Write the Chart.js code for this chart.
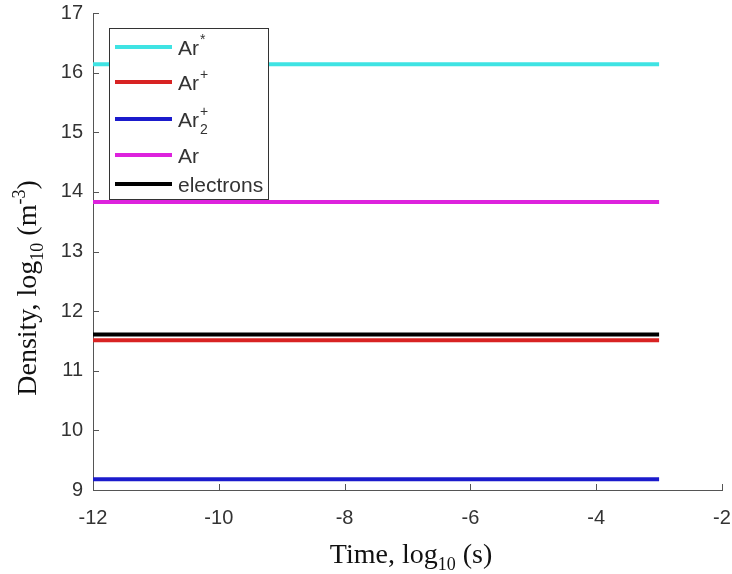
<!DOCTYPE html>
<html>
<head>
<meta charset="utf-8">
<script src="https://cdn.jsdelivr.net/npm/chart.js@4/dist/chart.umd.min.js"></script>
<style>
  html, body { margin: 0; padding: 0; background: #fff; }
  #wrap { width: 732px; height: 574px; }
</style>
</head>
<body>
<div id="wrap"><canvas id="densityChart" width="732" height="574"></canvas></div>
<script>
// data
var timeLog = [-12, -3];
var arStar = [16.14, 16.14];
var arPlus = [11.51, 11.51];
var ar2Plus = [9.18, 9.18];
var arNeutral = [13.83, 13.83];
var electrons = [11.61, 11.61];
var xTicks = [-12, -10, -8, -6, -4, -2];
var yTicks = [9, 10, 11, 12, 13, 14, 15, 16, 17];

// legend entries: base text, superscript, subscript
var legendItems = [
  { label: 'Ar', sup: '*', sub: '', color: '#3fe3e3' },
  { label: 'Ar', sup: '+', sub: '', color: '#d82323' },
  { label: 'Ar', sup: '+', sub: '2', color: '#1b1bcc' },
  { label: 'Ar', sup: '', sub: '', color: '#dd22dd' },
  { label: 'electrons', sup: '', sub: '', color: '#000000' }
];

function makeSet(label, values, color) {
  return {
    label: label,
    data: timeLog.map(function(t, i) { return { x: t, y: values[i] }; }),
    borderColor: color,
    borderWidth: 4,
    pointRadius: 0,
    fill: false
  };
}

// inward tick marks, MATLAB style
var innerTicks = {
  id: 'innerTicks',
  afterDraw: function(chart) {
    var ctx = chart.ctx;
    var xs = chart.scales.x, ys = chart.scales.y;
    var a = chart.chartArea;
    ctx.save();
    ctx.strokeStyle = '#555';
    ctx.lineWidth = 1;
    xTicks.forEach(function(v) {
      var px = Math.round(xs.getPixelForValue(v)) + 0.5;
      ctx.beginPath();
      ctx.moveTo(px, a.bottom);
      ctx.lineTo(px, a.bottom - 6);
      ctx.stroke();
    });
    yTicks.forEach(function(v) {
      var py = Math.round(ys.getPixelForValue(v)) + 0.5;
      ctx.beginPath();
      ctx.moveTo(a.left, py);
      ctx.lineTo(a.left + 6, py);
      ctx.stroke();
    });
    ctx.restore();
  }
};

// axis titles with sub/superscripts
var axisTitles = {
  id: 'axisTitles',
  afterDraw: function(chart) {
    var ctx = chart.ctx;
    ctx.save();
    ctx.fillStyle = '#111';
    ctx.textBaseline = 'alphabetic';
    var big = '28px "Liberation Serif", "DejaVu Serif", serif';
    var small = '18px "Liberation Serif", "DejaVu Serif", serif';

    // x title
    var parts = [['Time, log', big, 0], ['10', small, 7], [' (s)', big, 0]];
    var total = 0;
    parts.forEach(function(p) { ctx.font = p[1]; total += ctx.measureText(p[0]).width; });
    var x = 411 - total / 2, y = 563;
    parts.forEach(function(p) {
      ctx.font = p[1];
      ctx.fillText(p[0], x, y + p[2]);
      x += ctx.measureText(p[0]).width;
    });

    // y title, rotated
    ctx.translate(36, 288);
    ctx.rotate(-Math.PI / 2);
    parts = [['Density, log', big, 0], ['10', small, 7], [' (m', big, 0], ['-3', small, -11], [')', big, 0]];
    total = 0;
    parts.forEach(function(p) { ctx.font = p[1]; total += ctx.measureText(p[0]).width; });
    x = -total / 2;
    parts.forEach(function(p) {
      ctx.font = p[1];
      ctx.fillText(p[0], x, p[2]);
      x += ctx.measureText(p[0]).width;
    });
    ctx.restore();
  }
};

// boxed legend inside the plot
var boxLegend = {
  id: 'boxLegend',
  afterDraw: function(chart) {
    var ctx = chart.ctx;
    var left = 109, top = 28, w = 159, h = 171;
    var rows = [47, 82, 119, 155, 184];
    ctx.save();
    ctx.fillStyle = '#fff';
    ctx.fillRect(left, top, w, h);
    ctx.strokeStyle = '#333';
    ctx.lineWidth = 1;
    ctx.strokeRect(left + 0.5, top + 0.5, w, h);
    ctx.textBaseline = 'alphabetic';
    legendItems.forEach(function(item, i) {
      var y = rows[i];
      ctx.strokeStyle = item.color;
      ctx.lineWidth = 4;
      ctx.beginPath();
      ctx.moveTo(115, y);
      ctx.lineTo(172, y);
      ctx.stroke();
      ctx.fillStyle = '#333';
      ctx.font = '21px "Liberation Sans", Arial, sans-serif';
      var tx = 178;
      ctx.fillText(item.label, tx, y + 8);
      tx += ctx.measureText(item.label).width + 1;
      ctx.font = '14px "Liberation Sans", Arial, sans-serif';
      if (item.sup) ctx.fillText(item.sup, tx, y - 3);
      if (item.sub) ctx.fillText(item.sub, tx, y + 15);
    });
    ctx.restore();
  }
};

var ctx = document.getElementById('densityChart').getContext('2d');
var densityChart = new Chart(ctx, {
  type: 'line',
  data: {
    datasets: [
      makeSet('Ar*', arStar, legendItems[0].color),
      makeSet('Ar+', arPlus, legendItems[1].color),
      makeSet('Ar2+', ar2Plus, legendItems[2].color),
      makeSet('Ar', arNeutral, legendItems[3].color),
      makeSet('electrons', electrons, legendItems[4].color)
    ]
  },
  options: {
    responsive: false,
    animation: false,
    layout: { padding: { top: 13, right: 10, left: 0, bottom: 0 } },
    plugins: {
      legend: { display: false },
      tooltip: { enabled: false }
    },
    scales: {
      x: {
        type: 'linear',
        min: -12,
        max: -2,
        afterBuildTicks: function(s) { s.ticks = xTicks.map(function(v) { return { value: v }; }); },
        afterFit: function(s) { s.height = 84; s.paddingLeft = 0; s.paddingRight = 0; },
        grid: { display: false, tickLength: 0 },
        border: { display: true, color: '#555', width: 1 },
        ticks: {
          color: '#333',
          padding: 16,
          maxRotation: 0,
          autoSkip: false,
          font: { family: '"Liberation Sans", Arial, sans-serif', size: 20 }
        }
      },
      y: {
        min: 9,
        max: 17,
        afterBuildTicks: function(s) { s.ticks = yTicks.map(function(v) { return { value: v }; }); },
        afterFit: function(s) { s.width = 93; s.paddingTop = 0; s.paddingBottom = 0; },
        grid: { display: false, tickLength: 0 },
        border: { display: true, color: '#555', width: 1 },
        ticks: {
          color: '#333',
          padding: 10,
          autoSkip: false,
          font: { family: '"Liberation Sans", Arial, sans-serif', size: 20 }
        }
      }
    }
  },
  plugins: [innerTicks, axisTitles, boxLegend]
});
</script>
</body>
</html>
